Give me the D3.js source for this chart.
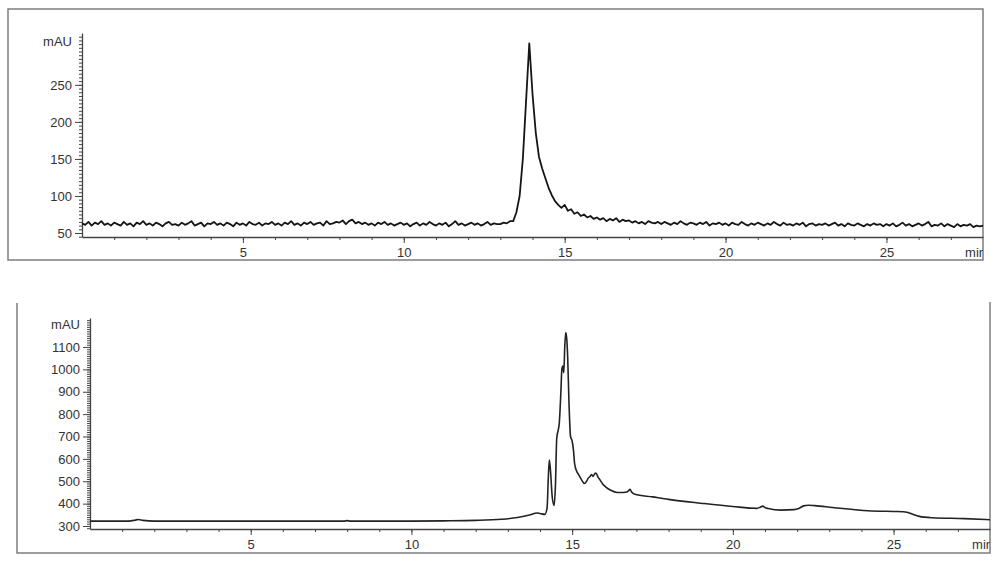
<!DOCTYPE html>
<html>
<head>
<meta charset="utf-8">
<script src="https://cdn.jsdelivr.net/npm/d3@7"></script>
<style>
  body { margin: 0; background: #fff; }
  svg text { font-family: "Liberation Sans", Arial, sans-serif; font-size: 13px; fill: #333; }
</style>
</head>
<body>
<svg id="chart" width="1000" height="562"></svg>
<script>
// top trace: absorbance read every 0.1 min from 0 to 28 min
const topStart = 0;
const topStep = 0.1;
const topValues = [
  63, 61, 65, 60, 64, 62, 66, 61, 63, 60,
  64, 62, 60, 65, 61, 63, 59, 64, 62, 66,
  61, 63, 60, 64, 62, 59, 63, 65, 61, 62,
  60, 64, 61, 63, 66, 60, 62, 64, 59, 63,
  62, 65, 61, 63, 60, 64, 62, 59, 64, 61,
  63, 60, 65, 62, 61, 64, 60, 63, 62, 65,
  61, 63, 60, 64, 62, 66, 61, 63, 60, 64,
  62, 65, 61, 63, 64, 60, 66, 62, 63, 65,
  64, 67, 62, 66, 68, 63, 65, 62, 64, 61,
  63, 60, 64, 62, 65, 61, 63, 60, 62, 64,
  61, 63, 59, 62, 64, 60, 63, 61, 65, 62,
  60, 63, 61, 64, 59, 62, 66, 61, 63, 60,
  62, 64, 61, 63, 60, 62, 65, 61, 63, 62,
  62, 64, 63, 66, 66, 78, 100, 150, 228, 306,
  238, 186, 153, 137, 124, 111, 101, 93, 88, 84,
  88, 80, 82, 76, 78, 73, 75, 71, 73, 69,
  71, 68, 70, 66, 69, 67, 70, 65, 68, 66,
  67, 64, 66, 63, 65, 62, 66, 64, 63, 65,
  62, 65, 63, 61, 64, 62, 66, 63, 61, 64,
  63, 61, 64, 62, 65, 60, 63, 62, 64, 61,
  63, 60, 64, 62, 61, 65, 62, 60, 63, 61,
  64, 62, 60, 63, 61, 65, 62, 60, 64, 61,
  62, 60, 63, 61, 64, 59, 62, 63, 60, 62,
  61, 63, 60, 62, 64, 60, 62, 59, 63, 61,
  60, 63, 61, 59, 62, 60, 63, 61, 62, 59,
  62, 60, 63, 59, 61, 64, 60, 62, 59, 61,
  63, 60, 62, 65, 59, 61, 60, 63, 59, 62,
  60, 58, 62, 59, 61, 60, 62, 58, 60, 59,
  60
];

// bottom trace: retention time (min) and absorbance (mAU)
const bottomTimes = [
  0, 1.2, 1.4, 1.5, 1.65, 2.0, 5, 7.9, 8.0, 8.1, 10, 11, 12, 12.8, 13.3, 13.7,
  13.9, 14.0, 14.15, 14.22, 14.26, 14.29, 14.33, 14.38, 14.44, 14.48, 14.52, 14.6,
  14.65, 14.68, 14.71, 14.74, 14.77, 14.8, 14.83, 14.86, 14.9, 14.95, 15.0, 15.04,
  15.08, 15.14, 15.2, 15.3, 15.38, 15.45, 15.5, 15.55, 15.6, 15.65, 15.7, 15.74,
  15.8, 15.87, 15.95, 16.05, 16.2, 16.4, 16.6, 16.7, 16.76, 16.8, 16.85, 16.95,
  17.5, 18, 19, 20, 20.75, 20.85, 20.93, 21.0, 21.1, 21.5, 21.9, 22.05, 22.2,
  22.35, 22.55, 23.1, 24.2, 25.0, 25.3, 25.45, 25.6, 25.8, 26.2, 27.2, 28
];
const bottomValues = [
  322, 322, 326, 329, 325, 322, 322, 322, 324, 322, 322, 323, 325, 330, 338, 350,
  358, 356, 352, 380, 520, 595, 540, 430, 392, 480, 690, 760,
  900, 1000, 1015, 985, 1100, 1165, 1140, 1060, 860, 700, 680, 640,
  575, 545, 530, 505, 490, 500, 514, 520, 530, 522, 533, 537,
  520, 505, 488, 474, 460, 450, 450, 452, 458, 464, 452, 442,
  430, 419, 402, 387, 379, 384, 389, 382, 378, 371, 373, 378, 390,
  393, 391, 383, 368, 365, 364, 360, 352, 343, 337, 333, 328
];

const timeDomain = [0, 28];
const timeTicks = [5, 10, 15, 20, 25];
const topYDomain = [44.6, 320];
const topYTicks = [50, 100, 150, 200, 250];
const bottomYDomain = [286.6, 1229.6];
const bottomYTicks = [300, 400, 500, 600, 700, 800, 900, 1000, 1100];

const svg = d3.select('#chart');

// panel frames
svg.append('rect')
  .attr('x', 8).attr('y', 9).attr('width', 975).attr('height', 251)
  .attr('fill', 'none').attr('stroke', '#7d7d7d').attr('stroke-width', 1.5);

svg.append('path')
  .attr('d', 'M17,303 V553 H990 V302')
  .attr('fill', 'none').attr('stroke', '#7d7d7d').attr('stroke-width', 1.5);

function drawPanel(opts) {
  const x = d3.scaleLinear().domain(timeDomain).range([opts.left, opts.right]);
  const y = d3.scaleLinear().domain(opts.yDomain).range([opts.bottom, opts.top]);
  const g = svg.append('g');

  // minor y ticks
  g.append('g')
    .attr('transform', `translate(${opts.left},0)`)
    .call(d3.axisLeft(y).tickValues(d3.range(opts.minorFrom, opts.yDomain[1], opts.minorStep))
      .tickSize(3).tickFormat(''))
    .call(a => a.select('.domain').remove())
    .call(a => a.selectAll('line').attr('stroke', '#444'));

  // major y ticks + labels
  g.append('g')
    .attr('transform', `translate(${opts.left},0)`)
    .call(d3.axisLeft(y).tickValues(opts.yTicks).tickFormat(d3.format('d'))
      .tickSize(7).tickSizeOuter(0).tickPadding(3))
    .call(a => a.select('.domain').attr('stroke', '#444').attr('stroke-width', 1.3))
    .call(a => a.selectAll('line').attr('stroke', '#444'))
    .call(a => a.selectAll('text').attr('font-size', 13).attr('fill', '#333'));

  g.append('text')
    .attr('x', opts.left - 10).attr('y', opts.mauY)
    .attr('text-anchor', 'end').attr('dy', '0.35em')
    .text('mAU');

  // minor x ticks every minute
  g.append('g')
    .attr('transform', `translate(0,${opts.bottom})`)
    .call(d3.axisBottom(x).tickValues(d3.range(1, 28, 1)).tickSize(3).tickFormat(''))
    .call(a => a.select('.domain').remove())
    .call(a => a.selectAll('line').attr('stroke', '#444'));

  g.append('g')
    .attr('transform', `translate(0,${opts.bottom})`)
    .call(d3.axisBottom(x).tickValues(timeTicks).tickSize(6).tickSizeOuter(0).tickPadding(opts.xPad))
    .call(a => a.select('.domain').attr('stroke', '#444').attr('stroke-width', 1.3))
    .call(a => a.selectAll('line').attr('stroke', '#444'))
    .call(a => a.selectAll('text').attr('font-size', 13).attr('fill', '#333'));

  // "min" unit, clipped by the frame edge
  const clipId = 'clip-' + opts.name;
  svg.append('clipPath').attr('id', clipId)
    .append('rect').attr('x', opts.right - 40).attr('y', opts.bottom).attr('width', 40).attr('height', 30);
  g.append('text')
    .attr('clip-path', `url(#${clipId})`)
    .attr('x', opts.right + 3).attr('y', opts.bottom + opts.xPad + 6)
    .attr('dy', '0.71em').attr('text-anchor', 'end')
    .attr('font-size', 12)
    .text('min');

  return { x, y, g };
}

const topPanel = drawPanel({
  name: 'top', left: 82, right: 983, top: 33, bottom: 237,
  yDomain: topYDomain, yTicks: topYTicks, minorFrom: 45, minorStep: 5,
  mauY: 41, xPad: 5
});

const bottomPanel = drawPanel({
  name: 'bottom', left: 90, right: 990, top: 318, bottom: 529,
  yDomain: bottomYDomain, yTicks: bottomYTicks, minorFrom: 290, minorStep: 10,
  mauY: 324, xPad: 5
});

// top chromatogram
topPanel.g.append('path')
  .datum(topValues)
  .attr('fill', 'none')
  .attr('stroke', '#151515')
  .attr('stroke-width', 1.8)
  .attr('stroke-linejoin', 'round')
  .attr('d', d3.line()
    .x((d, i) => topPanel.x(topStart + i * topStep))
    .y(d => topPanel.y(d)));

// bottom chromatogram
bottomPanel.g.append('path')
  .datum(bottomTimes.map((t, i) => [t, bottomValues[i]]))
  .attr('fill', 'none')
  .attr('stroke', '#222')
  .attr('stroke-width', 1.6)
  .attr('stroke-linejoin', 'round')
  .attr('d', d3.line()
    .x(d => bottomPanel.x(d[0]))
    .y(d => bottomPanel.y(d[1]))
    .curve(d3.curveMonotoneX));
</script>
</body>
</html>
